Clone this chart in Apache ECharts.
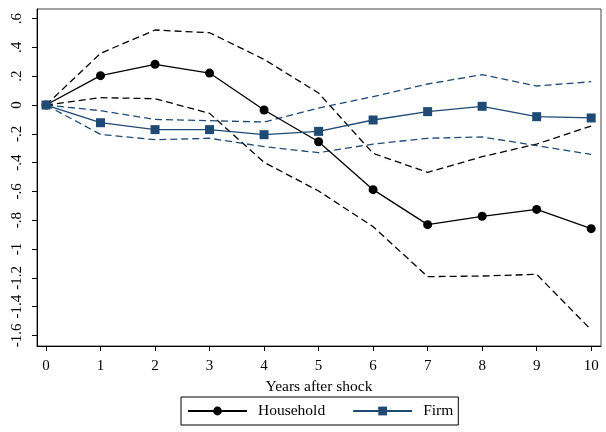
<!DOCTYPE html>
<html>
<head>
<meta charset="utf-8">
<script src="https://cdn.jsdelivr.net/npm/echarts@6/dist/echarts.min.js"></script>
<style>html,body{margin:0;padding:0;background:#fff;}#c{width:606px;height:432px;}</style>
</head>
<body>
<div id="c"></div>
<script>
const years = [0,1,2,3,4,5,6,7,8,9,10];
const household      = [0, 0.204, 0.283, 0.222, -0.035, -0.255, -0.588, -0.831, -0.773, -0.725, -0.859];
const householdUpper = [0, 0.359, 0.521, 0.502, 0.317, 0.083, -0.336, -0.468, -0.359, -0.271, -0.146];
const householdLower = [0, 0.051, 0.044, -0.058, -0.398, -0.597, -0.845, -1.192, -1.188, -1.176, -1.562];
const firm      = [0, -0.123, -0.171, -0.171, -0.206, -0.183, -0.104, -0.046, -0.009, -0.081, -0.090];
const firmUpper = [0, -0.039, -0.100, -0.109, -0.118, -0.021, 0.058, 0.146, 0.211, 0.132, 0.162];
const firmLower = [0, -0.204, -0.241, -0.231, -0.289, -0.331, -0.271, -0.231, -0.222, -0.282, -0.343];
const xTicks = [0,1,2,3,4,5,6,7,8,9,10];
const yTicks = [-1.6,-1.4,-1.2,-1,-0.8,-0.6,-0.4,-0.2,0,0.2,0.4,0.6];

const BLUE = '#1f4a73';
const pair = arr => years.map((x,i)=>[x, arr[i]]);
const fmtY = v => {
  if (Math.abs(v) < 1e-9) return '0';
  let s = Math.abs(v).toFixed(1).replace(/^0/, '').replace(/\.0$/, '');
  return (v < 0 ? '-' : '') + s;
};
const font = 'Liberation Serif';

const chart = echarts.init(document.getElementById('c'), null, {renderer:'canvas'});
const dashed = (name, arr, color) => ({
  name, type:'line', data: pair(arr), symbol:'none', silent:true,
  lineStyle:{color, width:1.3, type:[7,4]}, z:2
});
chart.setOption({
  animation:false,
  backgroundColor:'#fff',
  grid:{left:37, top:9, right:5, bottom:86, show:true, borderColor:'#444', borderWidth:1},
  xAxis:{
    type:'value', min:-0.165, max:10.18,
    name:'Years after shock', nameLocation:'middle', nameGap:30,
    nameTextStyle:{fontFamily:font, fontSize:15.5, color:'#000'},
    axisLine:{show:true, onZero:false, lineStyle:{color:'#000', width:1}},
    axisTick:{show:true, length:5, customValues:xTicks, lineStyle:{color:'#000'}},
    axisLabel:{customValues:xTicks, fontFamily:font, fontSize:15, color:'#000', margin:13},
    splitLine:{show:false}
  },
  yAxis:{
    type:'value', min:-1.674, max:0.667,
    axisLine:{show:true, onZero:false, lineStyle:{color:'#000', width:1}},
    axisTick:{show:true, length:5, customValues:yTicks, lineStyle:{color:'#000'}},
    axisLabel:{customValues:yTicks, formatter:fmtY, rotate:90, fontFamily:font, fontSize:15, color:'#000', margin:12},
    splitLine:{show:false}
  },
  legend:{
    data:['Household','Firm'],
    left:181, top:397,
    borderColor:'#000', borderWidth:1, padding:[6,5,6,6],
    itemWidth:59, itemHeight:11, itemGap:27,
    textStyle:{fontFamily:font, fontSize:15.5, color:'#000', padding:[0,0,0,6]}
  },
  series:[
    dashed('hu', householdUpper, '#000'),
    dashed('hl', householdLower, '#000'),
    dashed('fu', firmUpper, BLUE),
    dashed('fl', firmLower, BLUE),
    {name:'Household', type:'line', data:pair(household), symbol:'circle', symbolSize:9,
     lineStyle:{color:'#000', width:1.3}, itemStyle:{color:'#000'}, z:3},
    {name:'Firm', type:'line', data:pair(firm), symbol:'rect', symbolSize:9,
     lineStyle:{color:BLUE, width:1.3}, itemStyle:{color:BLUE}, z:4}
  ]
});
</script>
</body>
</html>
